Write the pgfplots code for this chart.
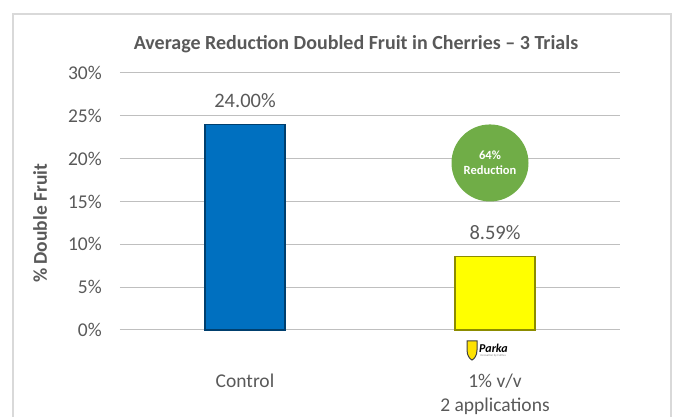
\documentclass[border=0pt]{standalone}
\usepackage{pgfplots}
\pgfplotsset{compat=1.18}
\usepackage{fontspec}
\setmainfont{Carlito}
\definecolor{txt}{HTML}{595959}
\definecolor{gridc}{HTML}{BFBFBF}
\definecolor{framec}{HTML}{D9D9D9}
\definecolor{barblue}{HTML}{0070C0}
\definecolor{barblueD}{HTML}{003F6E}
\definecolor{baryel}{HTML}{FFFF00}
\definecolor{baryelD}{HTML}{8C8C00}
\definecolor{circ}{HTML}{70AD47}
\begin{document}
\begin{tikzpicture}[x=1pt,y=1pt]
\draw[draw=framec, line width=1.2pt] (13,-5) -- (13,403) -- (671,403) -- (671,-5);
\node[text=txt, font=\fontsize{20}{24}\selectfont\bfseries] at (356,373) {Average Reduction Doubled Fruit in Cherries – 3 Trials};
\begin{axis}[
  at={(120pt,87pt)}, anchor=south west,
  scale only axis, width=500pt, height=257pt,
  /pgf/number format/assume math mode=true,
  xmin=-0.5, xmax=1.5, ymin=0, ymax=30,
  ybar, bar width=80pt, bar shift=0pt,
  axis x line*=bottom, axis y line*=left,
  x axis line style={draw=gridc, line width=1pt},
  y axis line style={draw=none},
  xtick={0,1}, xticklabels={Control,{1\% v/v\\2 applications}},
  ytick={0,5,...,30},
  yticklabel={\pgfmathprintnumber{\tick}\%},
  major tick length=0pt,
  tick style={draw=none},
  ymajorgrids, grid style={draw=gridc, line width=1pt},
  yticklabel style={text=txt, font=\fontsize{19.5}{23}\selectfont, inner sep=0pt, anchor=east, xshift=-18pt},
  xticklabel style={text=txt, font=\fontsize{19.5}{24}\selectfont, inner sep=0pt, anchor=north, align=center, yshift=-44pt},
  ylabel={\% Double Fruit},
  ylabel style={at={(axis description cs:-0.16,0.415)}, rotate=0, anchor=center, text=txt, font=\fontsize{19.5}{23}\selectfont\bfseries},
  nodes near coords={\pgfmathprintnumber[fixed,fixed zerofill,precision=2,assume math mode=true]{\pgfplotspointmeta}\%},
  every node near coord/.style={text=txt, font=\fontsize{20.5}{24}\selectfont, inner sep=0pt, anchor=south, yshift=16pt},
  clip=false,
]
\addplot[fill=barblue, draw=barblueD, line width=1.5pt] coordinates {(0,24)};
\addplot[fill=baryel, draw=baryelD, line width=1.5pt] coordinates {(1,8.59)};
\node[circle, fill=circ, minimum size=77pt, inner sep=0pt, text=white, align=center, font=\fontsize{12.5}{15}\selectfont\bfseries] at (axis cs:0.98,19.5) {64\%\\Reduction};
\coordinate (logo) at (axis cs:1,0);
\end{axis}
\begin{scope}[shift={(logo)}, xshift=-23pt, yshift=-20pt]
\draw[fill=yellow!85!orange, draw=gray!50!black, line width=1pt] (-5,9) -- (5,9) -- (5,0) .. controls (5,-6) and (2,-9) .. (0,-10) .. controls (-2,-9) and (-5,-6) .. (-5,0) -- cycle;
\node[anchor=west, inner sep=0pt, font=\fontsize{12}{14}\selectfont\bfseries\itshape] at (7,2) {Parka};
\node[anchor=west, inner sep=0pt, font=\fontsize{3}{4}\selectfont, text=gray] at (8,-6) {innovation by Cultiva};
\end{scope}
\pgfresetboundingbox
\path[use as bounding box] (0,0) rectangle (686,417);
\end{tikzpicture}
\end{document}
